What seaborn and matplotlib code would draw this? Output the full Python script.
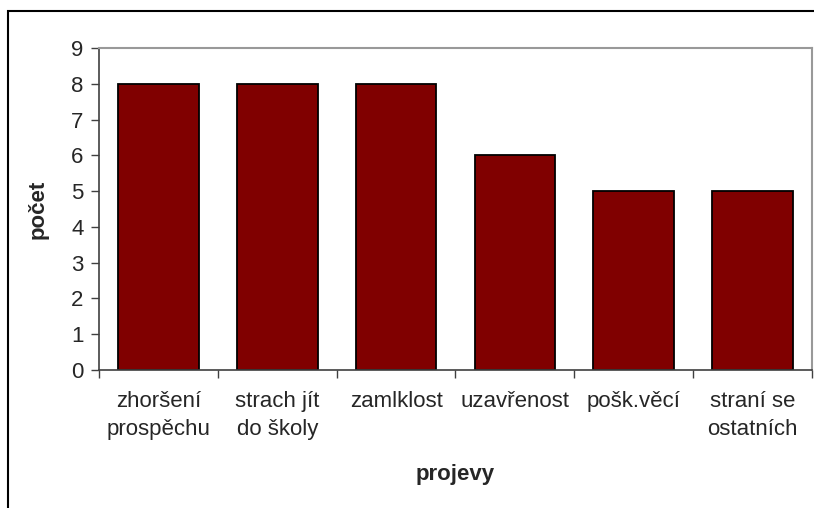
import matplotlib
matplotlib.use("Agg")
import matplotlib.pyplot as plt
import seaborn as sns
from matplotlib.patches import Rectangle

categories = [
    "zhoršení\nprospěchu",
    "strach jít\ndo školy",
    "zamlklost",
    "uzavřenost",
    "pošk.věcí",
    "straní se\nostatních",
]
values = [8, 8, 8, 6, 5, 5]
y_ticks = list(range(0, 10))

sns.set_style("white")
plt.rcParams["font.family"] = ["Liberation Sans", "DejaVu Sans"]

fig = plt.figure(figsize=(8.14, 5.08), dpi=100)

# outer chart border (runs past right and bottom edge like the screenshot)
fig.patches.append(Rectangle(
    (8 / 814, -0.1), 1.2, 1 - 11 / 508 + 0.1,
    transform=fig.transFigure, fill=False,
    edgecolor="black", linewidth=1.5
))

ax = fig.add_axes([99 / 814, (508 - 370) / 508, 713 / 814, 322 / 508])

sns.barplot(
    x=categories,
    y=values,
    color="#800000",
    edgecolor="black",
    linewidth=1.3,
    width=0.68,
    saturation=1,
    ax=ax
)

ax.set_ylim(0, 9)
ax.set_xlim(-0.5, 5.5)
ax.set_yticks(y_ticks)
ax.tick_params(axis="y", labelsize=16, length=6, width=1, color="#404040",
               direction="out", left=True, pad=5)
ax.set_xticks([i for i in range(6)])
ax.set_xticklabels(categories, fontsize=16, linespacing=1.45)
ax.tick_params(axis="x", which="major", length=0, pad=15)
ax.set_xticks([i - 0.5 for i in range(7)], minor=True)
ax.tick_params(axis="x", which="minor", length=6, width=1, color="#404040",
               direction="out", bottom=True)

for side in ["left", "bottom"]:
    ax.spines[side].set_color("#404040")
    ax.spines[side].set_linewidth(1.2)
for side in ["top", "right"]:
    ax.spines[side].set_color("#999999")
    ax.spines[side].set_linewidth(1.5)

ax.set_ylabel("počet", fontsize=16, fontweight="bold", labelpad=16)
ax.set_xlabel("projevy", fontsize=16, fontweight="bold", labelpad=17)

fig.savefig("out.png", dpi=100)
